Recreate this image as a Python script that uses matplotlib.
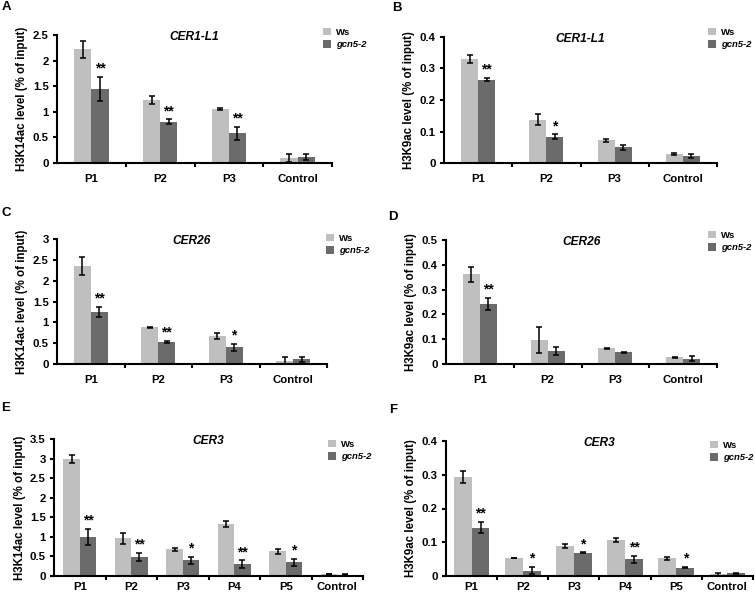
import numpy as np
import matplotlib
matplotlib.use('Agg')
import matplotlib.pyplot as plt

plt.rcParams['font.family'] = ['Liberation Sans', 'DejaVu Sans']
plt.rcParams['font.weight'] = 'bold'

# --- Daten ---
cats3 = ['P1', 'P2', 'P3', 'Control']
cats5 = ['P1', 'P2', 'P3', 'P4', 'P5', 'Control']

a_ws = [2.22, 1.23, 1.06, 0.10]
a_ws_err = [0.16, 0.08, 0.02, 0.08]
a_gcn = [1.45, 0.81, 0.58, 0.12]
a_gcn_err = [0.23, 0.04, 0.13, 0.06]
a_sig = ['**', '**', '**', '']

b_ws = [0.330, 0.138, 0.072, 0.028]
b_ws_err = [0.012, 0.018, 0.004, 0.003]
b_gcn = [0.265, 0.083, 0.050, 0.023]
b_gcn_err = [0.005, 0.008, 0.008, 0.007]
b_sig = ['**', '*', '', '']

c_ws = [2.35, 0.88, 0.68, 0.08]
c_ws_err = [0.22, 0.01, 0.07, 0.09]
c_gcn = [1.25, 0.53, 0.40, 0.12]
c_gcn_err = [0.13, 0.03, 0.08, 0.06]
c_sig = ['**', '**', '*', '']

d_ws = [0.362, 0.096, 0.063, 0.027]
d_ws_err = [0.030, 0.052, 0.003, 0.003]
d_gcn = [0.243, 0.053, 0.048, 0.021]
d_gcn_err = [0.024, 0.016, 0.002, 0.010]
d_sig = ['**', '', '', '']

e_ws = [2.98, 0.96, 0.68, 1.32, 0.63, 0.05]
e_ws_err = [0.10, 0.14, 0.03, 0.08, 0.06, 0.01]
e_gcn = [1.00, 0.49, 0.40, 0.30, 0.35, 0.03]
e_gcn_err = [0.20, 0.10, 0.09, 0.10, 0.09, 0.01]
e_sig = ['**', '**', '*', '**', '*', '']

f_ws = [0.293, 0.053, 0.089, 0.108, 0.052, 0.005]
f_ws_err = [0.017, 0.001, 0.007, 0.006, 0.005, 0.004]
f_gcn = [0.143, 0.016, 0.069, 0.050, 0.025, 0.008]
f_gcn_err = [0.017, 0.011, 0.001, 0.010, 0.002, 0.002]
f_sig = ['**', '*', '*', '**', '*', '']

W, H = 755, 592
fig = plt.figure(figsize=(W / 100, H / 100), dpi=100)

c_ws_col = '#bfbfbf'
c_gcn_col = '#6b6b6b'


def px_axes(left, right, top, bottom):
    return fig.add_axes([left / W, 1 - bottom / H, (right - left) / W, (bottom - top) / H])


def panel(box, cats, ws, ws_err, gcn, gcn_err, sig, ymax, ystep, ylabel, gene, letter,
          letter_xy, leg_xy, xpad=8, w=0.25):
    ax = px_axes(*box)
    x = np.arange(len(cats))
    ax.bar(x - w / 2, ws, w, color=c_ws_col, label='Ws')
    ax.bar(x + w / 2, gcn, w, color=c_gcn_col, label='gcn5-2')
    ax.errorbar(x - w / 2, ws, yerr=ws_err, fmt='none', ecolor='black', elinewidth=1.1, capsize=2, capthick=1.1)
    ax.errorbar(x + w / 2, gcn, yerr=gcn_err, fmt='none', ecolor='black', elinewidth=1.1, capsize=2, capthick=1.1)
    for xi, v, e, s in zip(x, gcn, gcn_err, sig):
        if s:
            ax.text(xi + w / 2, v + e + ymax * 0.01, s, ha='center', va='bottom', fontsize=10, fontweight='bold')

    ax.set_xlim(-0.5, len(cats) - 0.5)
    ax.set_ylim(0, ymax)
    ticks = np.arange(0, ymax + ystep / 2, ystep)
    ax.set_yticks(ticks)
    ax.set_yticklabels(['%g' % round(t, 2) for t in ticks])
    ax.set_xticks(x)
    ax.set_xticklabels(cats)
    ax.set_xticks(np.arange(len(cats)) + 0.5, minor=True)
    ax.tick_params(axis='x', which='major', length=0, pad=xpad, labelsize=8.2)
    ax.tick_params(axis='x', which='minor', length=3, width=1.5, direction='out')
    ax.tick_params(axis='y', length=3, width=1.5, direction='out', pad=3, labelsize=8.2)
    for t in ax.get_xticklabels() + ax.get_yticklabels():
        t.set_fontweight('bold')
    for side in ['top', 'right']:
        ax.spines[side].set_visible(False)
    for side in ['left', 'bottom']:
        ax.spines[side].set_linewidth(1.5)
    ax.set_ylabel(ylabel, fontsize=8.3, fontweight='bold', labelpad=3)
    ax.text(0.5, 0.985, gene, transform=ax.transAxes, ha='center', va='center',
            fontsize=8.6, fontweight='bold', style='italic')
    fig.text(letter_xy[0] / W, 1 - letter_xy[1] / H, letter, fontsize=9.5, fontweight='bold',
             ha='center', va='center')
    leg = ax.legend(loc='upper left', bbox_to_anchor=(leg_xy[0] / W, 1 - leg_xy[1] / H),
                    bbox_transform=fig.transFigure, frameon=False, fontsize=6.8,
                    handlelength=0.8, handleheight=0.8, handletextpad=0.6,
                    labelspacing=0.35, borderpad=0, borderaxespad=0)
    texts = leg.get_texts()
    texts[0].set_fontweight('bold')
    texts[1].set_fontweight('bold')
    texts[1].set_style('italic')
    return ax


panel((57, 332, 35, 163), cats3, a_ws, a_ws_err, a_gcn, a_gcn_err, a_sig, 2.5, 0.5,
      'H3K14ac level (% of input)', 'CER1-L1', 'A', (6, 7), (323, 28))
panel((444, 717, 37, 163), cats3, b_ws, b_ws_err, b_gcn, b_gcn_err, b_sig, 0.4, 0.1,
      'H3K9ac level (% of input)', 'CER1-L1', 'B', (397, 8), (708, 28))
panel((57, 327, 239, 364), cats3, c_ws, c_ws_err, c_gcn, c_gcn_err, c_sig, 3.0, 0.5,
      'H3K14ac level (% of input)', 'CER26', 'C', (6, 213), (326, 234))
panel((446, 717, 240, 364), cats3, d_ws, d_ws_err, d_gcn, d_gcn_err, d_sig, 0.5, 0.1,
      'H3K9ac level (% of input)', 'CER26', 'D', (393, 217), (708, 231))
panel((54, 363, 439, 576), cats5, e_ws, e_ws_err, e_gcn, e_gcn_err, e_sig, 3.5, 0.5,
      'H3K14ac level (% of input)', 'CER3', 'E', (6, 408), (328, 440), xpad=4, w=0.32)
panel((446, 753, 441, 576), cats5, f_ws, f_ws_err, f_gcn, f_gcn_err, f_sig, 0.4, 0.1,
      'H3K9ac level (% of input)', 'CER3', 'F', (393, 410), (710, 441), xpad=4, w=0.35)

fig.savefig('out.png', dpi=100)
